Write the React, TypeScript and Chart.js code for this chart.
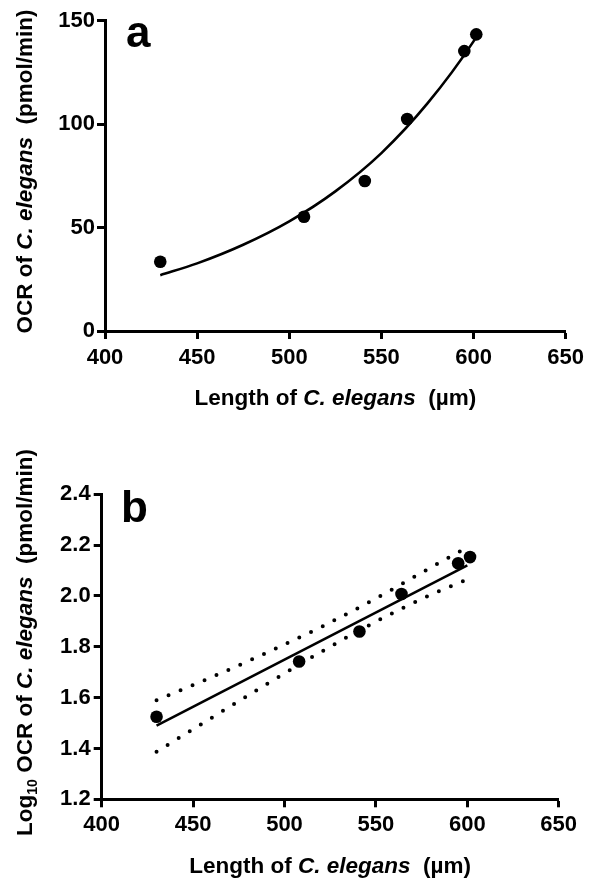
import React, { useEffect, useRef } from 'react';
import { Chart, registerables } from 'chart.js';

Chart.register(...registerables);

// ---------- data ----------
const lengths = [430, 508, 541, 564, 595, 601.5];
const ocrValues = [33.5, 55.2, 72.5, 102.5, 135.3, 143.4];
const logOcrValues = [1.525, 1.742, 1.86, 2.008, 2.129, 2.153];

// fitted exponential curve (panel a)
const fitCurveX = [430, 450, 475, 500, 525, 550, 575, 600, 602];
const fitCurveY = [27, 32.7, 41.7, 53, 67.5, 86, 110, 140, 143];

// linear regression line (panel b)
const fitLineX = [430, 600];
const fitLineY = [1.49, 2.12];

// confidence band (panel b), dotted
const bandX = [430, 460, 490, 520, 550, 580, 601];
const bandUpper = [1.59, 1.68, 1.776, 1.878, 1.99, 2.112, 2.195];
const bandLower = [1.387, 1.52, 1.652, 1.78, 1.899, 2.005, 2.068];

const xTicks = [400, 450, 500, 550, 600, 650];
const yTicksA = [0, 50, 100, 150];
const yTicksB = [1.2, 1.4, 1.6, 1.8, 2.0, 2.2, 2.4];

// ---------- style ----------
const FAMILY = '"Liberation Sans", Arial, Helvetica, sans-serif';
const TITLE_SIZE = 22.5;
const SUB_SIZE = 14;

type Seg = { text: string; italic?: boolean; sub?: boolean };

const xTitleSegs: Seg[] = [
  { text: 'Length of ' },
  { text: 'C. elegans', italic: true },
  { text: '  (µm)' },
];
const yTitleA: Seg[] = [
  { text: 'OCR of ' },
  { text: 'C. elegans', italic: true },
  { text: '  (pmol/min)' },
];
const yTitleB: Seg[] = [
  { text: 'Log' },
  { text: '10', sub: true },
  { text: ' OCR of ' },
  { text: 'C. elegans', italic: true },
  { text: '  (pmol/min)' },
];

function fontFor(s: Seg) {
  return `${s.italic ? 'italic ' : ''}bold ${s.sub ? SUB_SIZE : TITLE_SIZE}px ${FAMILY}`;
}

function drawRun(ctx: CanvasRenderingContext2D, segs: Seg[], cx: number, baseline: number) {
  let total = 0;
  const widths = segs.map((s) => {
    ctx.font = fontFor(s);
    const w = ctx.measureText(s.text).width;
    total += w;
    return w;
  });
  let x = cx - total / 2;
  segs.forEach((s, i) => {
    ctx.font = fontFor(s);
    ctx.fillText(s.text, x, baseline + (s.sub ? 5 : 0));
    x += widths[i];
  });
}

type TextSpec = {
  letter: string;
  letterX: number;
  letterY: number;
  xTitleY: number;
  yTitle: Seg[];
  yTitleX: number;
  yTitleCenter: number;
};

function makeTextPlugin(spec: TextSpec) {
  return {
    id: 'panelText',
    afterDraw(chart: any) {
      const { ctx, chartArea } = chart;
      ctx.save();
      ctx.fillStyle = '#000';
      ctx.textAlign = 'left';
      ctx.textBaseline = 'alphabetic';
      ctx.font = `bold 44px ${FAMILY}`;
      ctx.fillText(spec.letter, spec.letterX, spec.letterY);
      const cx = (chartArea.left + chartArea.right) / 2;
      drawRun(ctx, xTitleSegs, cx, spec.xTitleY);
      ctx.translate(spec.yTitleX, spec.yTitleCenter);
      ctx.rotate(-Math.PI / 2);
      drawRun(ctx, spec.yTitle, 0, 0);
      ctx.restore();
    },
  };
}

function axisOptions(
  min: number,
  max: number,
  ticks: number[],
  fixedSize: number,
  isX: boolean,
  padding: number,
  fmt: (v: number) => string
) {
  return {
    type: 'linear',
    position: isX ? 'bottom' : 'left',
    min,
    max,
    afterBuildTicks: (scale: any) => {
      scale.ticks = ticks.map((v) => ({ value: v }));
    },
    afterFit: (scale: any) => {
      if (isX) scale.height = fixedSize;
      else scale.width = fixedSize;
    },
    grid: {
      display: true,
      drawOnChartArea: false,
      drawTicks: true,
      tickLength: 8,
      tickWidth: 3,
      tickColor: '#000',
    },
    border: { display: true, color: '#000', width: 3 },
    ticks: {
      color: '#000',
      padding,
      autoSkip: false,
      maxRotation: 0,
      font: { family: FAMILY, size: 22, weight: 'bold' },
      callback: (v: any) => fmt(Number(v)),
    },
    title: { display: false },
  };
}

function pts(xs: number[], ys: number[]) {
  return xs.map((x, i) => ({ x, y: ys[i] }));
}

export default function App() {
  const refA = useRef<HTMLCanvasElement>(null);
  const refB = useRef<HTMLCanvasElement>(null);

  useEffect(() => {
    const common = {
      animation: false,
      responsive: false,
      devicePixelRatio: 1,
      events: [],
      plugins: { legend: { display: false }, tooltip: { enabled: false } },
    };

    const chartA = new Chart(refA.current as HTMLCanvasElement, {
      type: 'scatter',
      data: {
        datasets: [
          {
            data: pts(lengths, ocrValues),
            backgroundColor: '#000',
            borderColor: '#000',
            pointRadius: 6.3,
            pointBorderWidth: 0,
            order: 0,
          },
          {
            data: pts(fitCurveX, fitCurveY),
            showLine: true,
            borderColor: '#000',
            borderWidth: 2.6,
            pointRadius: 0,
            cubicInterpolationMode: 'monotone',
            order: 1,
          },
        ],
      },
      options: {
        ...common,
        layout: { padding: { top: 20.7, right: 21.7, bottom: 0, left: 0 } },
        scales: {
          x: axisOptions(400, 650, xTicks, 109, true, 6, (v) => String(v)),
          y: axisOptions(0, 150, yTicksA, 105, false, 2, (v) => String(v)),
        },
      } as any,
      plugins: [
        makeTextPlugin({
          letter: 'a',
          letterX: 126,
          letterY: 47,
          xTitleY: 405,
          yTitle: yTitleA,
          yTitleX: 32,
          yTitleCenter: 171.5,
        }),
      ],
    } as any);

    const chartB = new Chart(refB.current as HTMLCanvasElement, {
      type: 'scatter',
      data: {
        datasets: [
          {
            data: pts(lengths, logOcrValues),
            backgroundColor: '#000',
            borderColor: '#000',
            pointRadius: 6.3,
            pointBorderWidth: 0,
            order: 0,
          },
          {
            data: pts(fitLineX, fitLineY),
            showLine: true,
            borderColor: '#000',
            borderWidth: 2.6,
            pointRadius: 0,
            order: 1,
          },
          {
            data: pts(bandX, bandUpper),
            showLine: true,
            borderColor: '#000',
            borderWidth: 4,
            borderDash: [0, 13],
            borderCapStyle: 'round',
            pointRadius: 0,
            cubicInterpolationMode: 'monotone',
            order: 2,
          },
          {
            data: pts(bandX, bandLower),
            showLine: true,
            borderColor: '#000',
            borderWidth: 4,
            borderDash: [0, 13],
            borderCapStyle: 'round',
            pointRadius: 0,
            cubicInterpolationMode: 'monotone',
            order: 3,
          },
        ],
      },
      options: {
        ...common,
        layout: { padding: { top: 54.3, right: 31.3, bottom: 0, left: 0 } },
        scales: {
          x: axisOptions(400, 650, xTicks, 79.7, true, 4, (v) => String(v)),
          y: axisOptions(1.2, 2.4, yTicksB, 101.7, false, 3, (v) => v.toFixed(1)),
        },
      } as any,
      plugins: [
        makeTextPlugin({
          letter: 'b',
          letterX: 121,
          letterY: 82,
          xTitleY: 433,
          yTitle: yTitleB,
          yTitleX: 32,
          yTitleCenter: 202.5,
        }),
      ],
    } as any);

    return () => {
      chartA.destroy();
      chartB.destroy();
    };
  }, []);

  return (
    <div
      style={{
        position: 'absolute',
        left: 0,
        top: 0,
        width: 590,
        height: 879,
        background: '#fff',
        overflow: 'hidden',
      }}
    >
      <canvas
        ref={refA}
        width={590}
        height={440}
        style={{ position: 'absolute', left: 0, top: 0, width: 590, height: 440 }}
      />
      <canvas
        ref={refB}
        width={590}
        height={439}
        style={{ position: 'absolute', left: 0, top: 440, width: 590, height: 439 }}
      />
    </div>
  );
}
